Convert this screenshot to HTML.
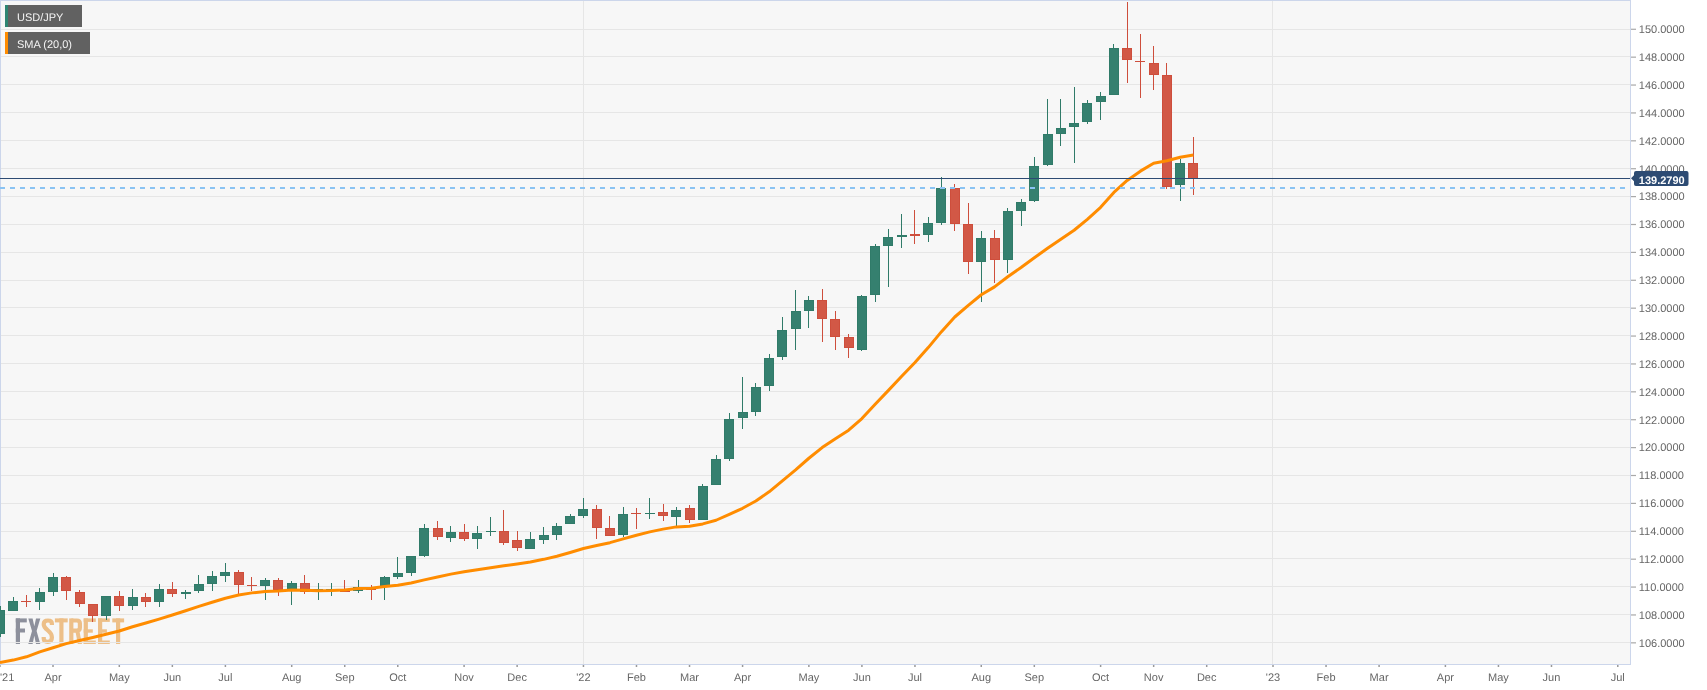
<!DOCTYPE html><html><head><meta charset="utf-8"><style>html,body{margin:0;padding:0;background:#fff;}body{width:1707px;height:690px;overflow:hidden;}svg{display:block;will-change:transform;text-rendering:geometricPrecision;font-family:"Liberation Sans",sans-serif;}</style></head><body><svg width="1707" height="690" viewBox="0 0 1707 690" shape-rendering="crispEdges"><rect x="0" y="0" width="1631" height="665" fill="#f7f7f7"/><g shape-rendering="geometricPrecision"><rect x="15.8" y="618.4" width="4.2" height="25.6" fill="#8d909c"/><rect x="15.8" y="618.4" width="11.0" height="4.0" fill="#8d909c"/><rect x="15.8" y="628.5" width="9.2" height="4.0" fill="#8d909c"/><polygon fill="#8d909c" points="28.3,618.4 32.6,618.4 34.3,626.2 36,618.4 40.3,618.4 36.6,631 40.3,644 36,644 34.3,635.8 32.6,644 28.3,644 32,631"/><path fill="none" stroke="#edbf88" stroke-width="4.2" d="M51.9 625 L51.9 623.8 Q51.9 620.5 47.85 620.5 Q43.7 620.5 43.7 624.2 Q43.7 627.3 47.85 630.4 Q51.9 633.5 51.9 637.6 Q51.9 641.9 47.85 641.9 Q43.7 641.9 43.7 638.6 L43.7 637"/><rect x="54.9" y="618.4" width="12.8" height="4.0" fill="#edbf88"/><rect x="59.3" y="618.4" width="4.2" height="25.6" fill="#edbf88"/><rect x="69.2" y="618.4" width="4.2" height="25.6" fill="#edbf88"/><path fill="none" stroke="#edbf88" stroke-width="4.2" d="M71.3 620.5 L76.8 620.5 Q79.9 620.5 79.9 623.6 L79.9 627.6 Q79.9 630.7 76.8 630.7 L71.3 630.7"/><polygon fill="#edbf88" points="75.6,632 79.6,632 82,644 77.8,644"/><rect x="83.7" y="618.4" width="4.2" height="25.6" fill="#edbf88"/><rect x="83.7" y="618.4" width="12.1" height="3.5" fill="#edbf88"/><rect x="83.7" y="629.3" width="9.1" height="3.4" fill="#edbf88"/><rect x="83.7" y="640.5" width="12.1" height="3.5" fill="#edbf88"/><rect x="98" y="618.4" width="4.2" height="25.6" fill="#edbf88"/><rect x="98" y="618.4" width="11.8" height="3.5" fill="#edbf88"/><rect x="98" y="629.3" width="8.9" height="3.4" fill="#edbf88"/><rect x="98" y="640.5" width="11.8" height="3.5" fill="#edbf88"/><rect x="112.3" y="618.4" width="11.8" height="4.0" fill="#edbf88"/><rect x="116" y="618.4" width="4.2" height="25.6" fill="#edbf88"/></g><rect x="1" y="29" width="1629" height="1" fill="#e6e6e6"/><rect x="1" y="56" width="1629" height="1" fill="#e6e6e6"/><rect x="1" y="84" width="1629" height="1" fill="#e6e6e6"/><rect x="1" y="112" width="1629" height="1" fill="#e6e6e6"/><rect x="1" y="140" width="1629" height="1" fill="#e6e6e6"/><rect x="1" y="168" width="1629" height="1" fill="#e6e6e6"/><rect x="1" y="196" width="1629" height="1" fill="#e6e6e6"/><rect x="1" y="224" width="1629" height="1" fill="#e6e6e6"/><rect x="1" y="252" width="1629" height="1" fill="#e6e6e6"/><rect x="1" y="280" width="1629" height="1" fill="#e6e6e6"/><rect x="1" y="307" width="1629" height="1" fill="#e6e6e6"/><rect x="1" y="335" width="1629" height="1" fill="#e6e6e6"/><rect x="1" y="363" width="1629" height="1" fill="#e6e6e6"/><rect x="1" y="391" width="1629" height="1" fill="#e6e6e6"/><rect x="1" y="419" width="1629" height="1" fill="#e6e6e6"/><rect x="1" y="447" width="1629" height="1" fill="#e6e6e6"/><rect x="1" y="475" width="1629" height="1" fill="#e6e6e6"/><rect x="1" y="503" width="1629" height="1" fill="#e6e6e6"/><rect x="1" y="531" width="1629" height="1" fill="#e6e6e6"/><rect x="1" y="558" width="1629" height="1" fill="#e6e6e6"/><rect x="1" y="586" width="1629" height="1" fill="#e6e6e6"/><rect x="1" y="614" width="1629" height="1" fill="#e6e6e6"/><rect x="1" y="642" width="1629" height="1" fill="#e6e6e6"/><rect x="583" y="1" width="1" height="663" fill="#e6e6e6"/><rect x="1272" y="1" width="1" height="663" fill="#e6e6e6"/><rect x="0" y="0" width="1631" height="1" fill="#ccd6eb"/><rect x="0" y="0" width="1" height="665" fill="#ccd6eb"/><rect x="1630" y="0" width="1" height="665" fill="#ccd6eb"/><rect x="0" y="664" width="1631" height="1" fill="#ccd6eb"/><rect x="0" y="606" width="1" height="31" fill="#307b69"/><rect x="-5" y="610" width="10" height="24" fill="#307b69"/><rect x="-4" y="611" width="8" height="22" fill="#35806f"/><rect x="13" y="597" width="1" height="14" fill="#307b69"/><rect x="8" y="601" width="10" height="10" fill="#307b69"/><rect x="9" y="602" width="8" height="8" fill="#35806f"/><rect x="26" y="595" width="1" height="12" fill="#ce4e3c"/><rect x="21" y="601" width="10" height="1" fill="#ce4e3c"/><rect x="39" y="588" width="1" height="22" fill="#307b69"/><rect x="35" y="592" width="10" height="10" fill="#307b69"/><rect x="36" y="593" width="8" height="8" fill="#35806f"/><rect x="53" y="573" width="1" height="23" fill="#307b69"/><rect x="48" y="577" width="10" height="15" fill="#307b69"/><rect x="49" y="578" width="8" height="13" fill="#35806f"/><rect x="66" y="576" width="1" height="24" fill="#ce4e3c"/><rect x="61" y="577" width="10" height="14" fill="#ce4e3c"/><rect x="62" y="578" width="8" height="12" fill="#d25846"/><rect x="79" y="590" width="1" height="17" fill="#ce4e3c"/><rect x="75" y="592" width="10" height="12" fill="#ce4e3c"/><rect x="76" y="593" width="8" height="10" fill="#d25846"/><rect x="92" y="604" width="1" height="18" fill="#ce4e3c"/><rect x="88" y="604" width="10" height="12" fill="#ce4e3c"/><rect x="89" y="605" width="8" height="10" fill="#d25846"/><rect x="106" y="596" width="1" height="24" fill="#307b69"/><rect x="101" y="596" width="10" height="20" fill="#307b69"/><rect x="102" y="597" width="8" height="18" fill="#35806f"/><rect x="119" y="591" width="1" height="20" fill="#ce4e3c"/><rect x="114" y="596" width="10" height="10" fill="#ce4e3c"/><rect x="115" y="597" width="8" height="8" fill="#d25846"/><rect x="132" y="589" width="1" height="21" fill="#307b69"/><rect x="128" y="597" width="10" height="9" fill="#307b69"/><rect x="129" y="598" width="8" height="7" fill="#35806f"/><rect x="145" y="593" width="1" height="14" fill="#ce4e3c"/><rect x="141" y="597" width="10" height="5" fill="#ce4e3c"/><rect x="142" y="598" width="8" height="3" fill="#d25846"/><rect x="159" y="584" width="1" height="23" fill="#307b69"/><rect x="154" y="589" width="10" height="13" fill="#307b69"/><rect x="155" y="590" width="8" height="11" fill="#35806f"/><rect x="172" y="582" width="1" height="15" fill="#ce4e3c"/><rect x="167" y="589" width="10" height="5" fill="#ce4e3c"/><rect x="168" y="590" width="8" height="3" fill="#d25846"/><rect x="185" y="590" width="1" height="9" fill="#307b69"/><rect x="181" y="592" width="10" height="2" fill="#307b69"/><rect x="198" y="575" width="1" height="18" fill="#307b69"/><rect x="194" y="584" width="10" height="7" fill="#307b69"/><rect x="195" y="585" width="8" height="5" fill="#35806f"/><rect x="212" y="571" width="1" height="20" fill="#307b69"/><rect x="207" y="576" width="10" height="8" fill="#307b69"/><rect x="208" y="577" width="8" height="6" fill="#35806f"/><rect x="225" y="563" width="1" height="19" fill="#307b69"/><rect x="220" y="572" width="10" height="4" fill="#307b69"/><rect x="221" y="573" width="8" height="2" fill="#35806f"/><rect x="238" y="570" width="1" height="24" fill="#ce4e3c"/><rect x="234" y="572" width="10" height="13" fill="#ce4e3c"/><rect x="235" y="573" width="8" height="11" fill="#d25846"/><rect x="251" y="577" width="1" height="14" fill="#ce4e3c"/><rect x="247" y="585" width="10" height="1" fill="#ce4e3c"/><rect x="265" y="578" width="1" height="22" fill="#307b69"/><rect x="260" y="580" width="10" height="6" fill="#307b69"/><rect x="261" y="581" width="8" height="4" fill="#35806f"/><rect x="278" y="578" width="1" height="18" fill="#ce4e3c"/><rect x="273" y="580" width="10" height="10" fill="#ce4e3c"/><rect x="274" y="581" width="8" height="8" fill="#d25846"/><rect x="291" y="581" width="1" height="24" fill="#307b69"/><rect x="287" y="583" width="10" height="6" fill="#307b69"/><rect x="288" y="584" width="8" height="4" fill="#35806f"/><rect x="304" y="575" width="1" height="19" fill="#ce4e3c"/><rect x="300" y="583" width="10" height="9" fill="#ce4e3c"/><rect x="301" y="584" width="8" height="7" fill="#d25846"/><rect x="318" y="583" width="1" height="17" fill="#307b69"/><rect x="313" y="589" width="10" height="2" fill="#307b69"/><rect x="331" y="583" width="1" height="13" fill="#307b69"/><rect x="326" y="589" width="10" height="1" fill="#307b69"/><rect x="344" y="580" width="1" height="12" fill="#ce4e3c"/><rect x="340" y="590" width="10" height="2" fill="#ce4e3c"/><rect x="358" y="580" width="1" height="13" fill="#307b69"/><rect x="353" y="587" width="10" height="4" fill="#307b69"/><rect x="354" y="588" width="8" height="2" fill="#35806f"/><rect x="371" y="585" width="1" height="15" fill="#ce4e3c"/><rect x="366" y="588" width="10" height="2" fill="#ce4e3c"/><rect x="384" y="576" width="1" height="24" fill="#307b69"/><rect x="380" y="577" width="10" height="9" fill="#307b69"/><rect x="381" y="578" width="8" height="7" fill="#35806f"/><rect x="397" y="557" width="1" height="22" fill="#307b69"/><rect x="393" y="573" width="10" height="4" fill="#307b69"/><rect x="394" y="574" width="8" height="2" fill="#35806f"/><rect x="411" y="556" width="1" height="20" fill="#307b69"/><rect x="406" y="556" width="10" height="17" fill="#307b69"/><rect x="407" y="557" width="8" height="15" fill="#35806f"/><rect x="424" y="524" width="1" height="33" fill="#307b69"/><rect x="419" y="528" width="10" height="28" fill="#307b69"/><rect x="420" y="529" width="8" height="26" fill="#35806f"/><rect x="437" y="521" width="1" height="19" fill="#ce4e3c"/><rect x="433" y="528" width="10" height="9" fill="#ce4e3c"/><rect x="434" y="529" width="8" height="7" fill="#d25846"/><rect x="450" y="526" width="1" height="16" fill="#307b69"/><rect x="446" y="532" width="10" height="6" fill="#307b69"/><rect x="447" y="533" width="8" height="4" fill="#35806f"/><rect x="464" y="524" width="1" height="17" fill="#ce4e3c"/><rect x="459" y="532" width="10" height="7" fill="#ce4e3c"/><rect x="460" y="533" width="8" height="5" fill="#d25846"/><rect x="477" y="526" width="1" height="23" fill="#307b69"/><rect x="472" y="533" width="10" height="6" fill="#307b69"/><rect x="473" y="534" width="8" height="4" fill="#35806f"/><rect x="490" y="517" width="1" height="19" fill="#307b69"/><rect x="486" y="531" width="10" height="1" fill="#307b69"/><rect x="503" y="510" width="1" height="35" fill="#ce4e3c"/><rect x="499" y="531" width="10" height="12" fill="#ce4e3c"/><rect x="500" y="532" width="8" height="10" fill="#d25846"/><rect x="517" y="531" width="1" height="20" fill="#ce4e3c"/><rect x="512" y="540" width="10" height="8" fill="#ce4e3c"/><rect x="513" y="541" width="8" height="6" fill="#d25846"/><rect x="530" y="532" width="1" height="17" fill="#307b69"/><rect x="525" y="539" width="10" height="10" fill="#307b69"/><rect x="526" y="540" width="8" height="8" fill="#35806f"/><rect x="543" y="527" width="1" height="17" fill="#307b69"/><rect x="539" y="535" width="10" height="5" fill="#307b69"/><rect x="540" y="536" width="8" height="3" fill="#35806f"/><rect x="556" y="523" width="1" height="17" fill="#307b69"/><rect x="552" y="526" width="10" height="9" fill="#307b69"/><rect x="553" y="527" width="8" height="7" fill="#35806f"/><rect x="570" y="514" width="1" height="10" fill="#307b69"/><rect x="565" y="516" width="10" height="8" fill="#307b69"/><rect x="566" y="517" width="8" height="6" fill="#35806f"/><rect x="583" y="498" width="1" height="20" fill="#307b69"/><rect x="578" y="509" width="10" height="7" fill="#307b69"/><rect x="579" y="510" width="8" height="5" fill="#35806f"/><rect x="596" y="505" width="1" height="34" fill="#ce4e3c"/><rect x="592" y="509" width="10" height="19" fill="#ce4e3c"/><rect x="593" y="510" width="8" height="17" fill="#d25846"/><rect x="609" y="516" width="1" height="20" fill="#ce4e3c"/><rect x="605" y="528" width="10" height="8" fill="#ce4e3c"/><rect x="606" y="529" width="8" height="6" fill="#d25846"/><rect x="623" y="507" width="1" height="30" fill="#307b69"/><rect x="618" y="514" width="10" height="21" fill="#307b69"/><rect x="619" y="515" width="8" height="19" fill="#35806f"/><rect x="636" y="508" width="1" height="21" fill="#ce4e3c"/><rect x="631" y="513" width="10" height="1" fill="#ce4e3c"/><rect x="649" y="498" width="1" height="21" fill="#307b69"/><rect x="645" y="513" width="10" height="1" fill="#307b69"/><rect x="663" y="504" width="1" height="17" fill="#ce4e3c"/><rect x="658" y="512" width="10" height="4" fill="#ce4e3c"/><rect x="659" y="513" width="8" height="2" fill="#d25846"/><rect x="676" y="507" width="1" height="19" fill="#307b69"/><rect x="671" y="510" width="10" height="7" fill="#307b69"/><rect x="672" y="511" width="8" height="5" fill="#35806f"/><rect x="689" y="505" width="1" height="18" fill="#ce4e3c"/><rect x="685" y="508" width="10" height="12" fill="#ce4e3c"/><rect x="686" y="509" width="8" height="10" fill="#d25846"/><rect x="702" y="484" width="1" height="36" fill="#307b69"/><rect x="698" y="486" width="10" height="34" fill="#307b69"/><rect x="699" y="487" width="8" height="32" fill="#35806f"/><rect x="716" y="455" width="1" height="30" fill="#307b69"/><rect x="711" y="459" width="10" height="26" fill="#307b69"/><rect x="712" y="460" width="8" height="24" fill="#35806f"/><rect x="729" y="413" width="1" height="48" fill="#307b69"/><rect x="724" y="419" width="10" height="40" fill="#307b69"/><rect x="725" y="420" width="8" height="38" fill="#35806f"/><rect x="742" y="377" width="1" height="52" fill="#307b69"/><rect x="738" y="412" width="10" height="6" fill="#307b69"/><rect x="739" y="413" width="8" height="4" fill="#35806f"/><rect x="755" y="383" width="1" height="33" fill="#307b69"/><rect x="751" y="387" width="10" height="25" fill="#307b69"/><rect x="752" y="388" width="8" height="23" fill="#35806f"/><rect x="769" y="354" width="1" height="37" fill="#307b69"/><rect x="764" y="358" width="10" height="28" fill="#307b69"/><rect x="765" y="359" width="8" height="26" fill="#35806f"/><rect x="782" y="317" width="1" height="43" fill="#307b69"/><rect x="777" y="330" width="10" height="27" fill="#307b69"/><rect x="778" y="331" width="8" height="25" fill="#35806f"/><rect x="795" y="290" width="1" height="60" fill="#307b69"/><rect x="791" y="311" width="10" height="18" fill="#307b69"/><rect x="792" y="312" width="8" height="16" fill="#35806f"/><rect x="808" y="296" width="1" height="32" fill="#307b69"/><rect x="804" y="300" width="10" height="11" fill="#307b69"/><rect x="805" y="301" width="8" height="9" fill="#35806f"/><rect x="822" y="289" width="1" height="53" fill="#ce4e3c"/><rect x="817" y="300" width="10" height="19" fill="#ce4e3c"/><rect x="818" y="301" width="8" height="17" fill="#d25846"/><rect x="835" y="311" width="1" height="39" fill="#ce4e3c"/><rect x="830" y="319" width="10" height="18" fill="#ce4e3c"/><rect x="831" y="320" width="8" height="16" fill="#d25846"/><rect x="848" y="334" width="1" height="24" fill="#ce4e3c"/><rect x="844" y="337" width="10" height="11" fill="#ce4e3c"/><rect x="845" y="338" width="8" height="9" fill="#d25846"/><rect x="861" y="295" width="1" height="56" fill="#307b69"/><rect x="857" y="296" width="10" height="54" fill="#307b69"/><rect x="858" y="297" width="8" height="52" fill="#35806f"/><rect x="875" y="244" width="1" height="58" fill="#307b69"/><rect x="870" y="246" width="10" height="49" fill="#307b69"/><rect x="871" y="247" width="8" height="47" fill="#35806f"/><rect x="888" y="229" width="1" height="58" fill="#307b69"/><rect x="883" y="237" width="10" height="9" fill="#307b69"/><rect x="884" y="238" width="8" height="7" fill="#35806f"/><rect x="901" y="214" width="1" height="34" fill="#307b69"/><rect x="897" y="235" width="10" height="2" fill="#307b69"/><rect x="914" y="210" width="1" height="34" fill="#ce4e3c"/><rect x="910" y="234" width="10" height="2" fill="#ce4e3c"/><rect x="928" y="217" width="1" height="25" fill="#307b69"/><rect x="923" y="223" width="10" height="12" fill="#307b69"/><rect x="924" y="224" width="8" height="10" fill="#35806f"/><rect x="941" y="177" width="1" height="48" fill="#307b69"/><rect x="936" y="188" width="10" height="35" fill="#307b69"/><rect x="937" y="189" width="8" height="33" fill="#35806f"/><rect x="954" y="184" width="1" height="47" fill="#ce4e3c"/><rect x="950" y="188" width="10" height="36" fill="#ce4e3c"/><rect x="951" y="189" width="8" height="34" fill="#d25846"/><rect x="968" y="203" width="1" height="71" fill="#ce4e3c"/><rect x="963" y="224" width="10" height="38" fill="#ce4e3c"/><rect x="964" y="225" width="8" height="36" fill="#d25846"/><rect x="981" y="231" width="1" height="71" fill="#307b69"/><rect x="976" y="238" width="10" height="24" fill="#307b69"/><rect x="977" y="239" width="8" height="22" fill="#35806f"/><rect x="994" y="230" width="1" height="53" fill="#ce4e3c"/><rect x="990" y="238" width="10" height="22" fill="#ce4e3c"/><rect x="991" y="239" width="8" height="20" fill="#d25846"/><rect x="1007" y="208" width="1" height="65" fill="#307b69"/><rect x="1003" y="211" width="10" height="49" fill="#307b69"/><rect x="1004" y="212" width="8" height="47" fill="#35806f"/><rect x="1021" y="199" width="1" height="27" fill="#307b69"/><rect x="1016" y="202" width="10" height="9" fill="#307b69"/><rect x="1017" y="203" width="8" height="7" fill="#35806f"/><rect x="1034" y="157" width="1" height="45" fill="#307b69"/><rect x="1029" y="166" width="10" height="35" fill="#307b69"/><rect x="1030" y="167" width="8" height="33" fill="#35806f"/><rect x="1047" y="99" width="1" height="67" fill="#307b69"/><rect x="1043" y="134" width="10" height="31" fill="#307b69"/><rect x="1044" y="135" width="8" height="29" fill="#35806f"/><rect x="1060" y="99" width="1" height="47" fill="#307b69"/><rect x="1056" y="128" width="10" height="6" fill="#307b69"/><rect x="1057" y="129" width="8" height="4" fill="#35806f"/><rect x="1074" y="87" width="1" height="76" fill="#307b69"/><rect x="1069" y="123" width="10" height="4" fill="#307b69"/><rect x="1070" y="124" width="8" height="2" fill="#35806f"/><rect x="1087" y="100" width="1" height="24" fill="#307b69"/><rect x="1082" y="103" width="10" height="19" fill="#307b69"/><rect x="1083" y="104" width="8" height="17" fill="#35806f"/><rect x="1100" y="92" width="1" height="28" fill="#307b69"/><rect x="1096" y="96" width="10" height="6" fill="#307b69"/><rect x="1097" y="97" width="8" height="4" fill="#35806f"/><rect x="1113" y="44" width="1" height="51" fill="#307b69"/><rect x="1109" y="48" width="10" height="47" fill="#307b69"/><rect x="1110" y="49" width="8" height="45" fill="#35806f"/><rect x="1127" y="2" width="1" height="81" fill="#ce4e3c"/><rect x="1122" y="48" width="10" height="12" fill="#ce4e3c"/><rect x="1123" y="49" width="8" height="10" fill="#d25846"/><rect x="1140" y="34" width="1" height="64" fill="#ce4e3c"/><rect x="1135" y="61" width="10" height="1" fill="#ce4e3c"/><rect x="1153" y="46" width="1" height="44" fill="#ce4e3c"/><rect x="1149" y="63" width="10" height="12" fill="#ce4e3c"/><rect x="1150" y="64" width="8" height="10" fill="#d25846"/><rect x="1166" y="63" width="1" height="126" fill="#ce4e3c"/><rect x="1162" y="75" width="10" height="112" fill="#ce4e3c"/><rect x="1163" y="76" width="8" height="110" fill="#d25846"/><rect x="1180" y="159" width="1" height="42" fill="#307b69"/><rect x="1175" y="163" width="10" height="22" fill="#307b69"/><rect x="1176" y="164" width="8" height="20" fill="#35806f"/><rect x="1193" y="137" width="1" height="58" fill="#ce4e3c"/><rect x="1188" y="163" width="10" height="16" fill="#ce4e3c"/><rect x="1189" y="164" width="8" height="14" fill="#d25846"/><polyline shape-rendering="geometricPrecision" points="0,662.51 13.22,660.1 26.48,656.8 39.74,651.9 53.0,647.7 66.26,643.6 79.52,640.5 92.78,637.5 106.04,634.2 119.3,631.0 132.57,626.8 145.83,623.0 159.09,619.1 172.35,615.0 185.61,610.7 198.87,606.3 212.13,602.2 225.39,598.2 238.65,595.0 251.91,592.87 265.17,591.42 278.44,590.95 291.7,590.1 304.96,590.16 318.22,590.8 331.48,590.6 344.74,589.91 358.0,588.59 371.26,588.15 384.52,586.46 397.78,585.22 411.04,582.93 424.31,579.86 437.57,576.93 450.83,574.12 464.09,571.84 477.35,569.79 490.61,567.85 503.87,565.78 517.13,563.97 530.39,562.06 543.65,559.34 556.91,556.26 570.18,552.47 583.44,548.56 596.7,545.52 609.96,542.67 623.22,538.91 636.48,535.19 649.74,531.9 663.0,529.12 676.26,526.88 689.52,526.31 702.78,523.91 716.04,520.25 729.31,514.31 742.57,508.28 755.83,501.05 769.09,491.8 782.35,480.86 795.61,469.94 808.87,458.25 822.13,447.61 835.39,438.64 848.65,430.19 861.91,418.58 875.18,404.19 888.44,390.38 901.7,376.32 914.96,362.53 928.22,347.62 941.48,331.65 954.74,317.01 968.0,305.63 981.26,294.78 994.52,286.91 1007.78,276.71 1021.05,267.49 1034.31,257.77 1047.57,248.33 1060.83,239.21 1074.09,230.27 1087.35,219.28 1100.61,207.31 1113.87,192.38 1127.13,180.42 1140.39,171.15 1153.65,163.2 1166.92,160.79 1180.18,157.29 1193.44,155.06" fill="none" stroke="#ff8c00" stroke-width="3" stroke-linejoin="round"/><rect x="0" y="178" width="1630" height="1" fill="#2d4b73"/><rect x="0" y="187" width="5" height="2" fill="#8ac3f3"/><rect x="10" y="187" width="5" height="2" fill="#8ac3f3"/><rect x="20" y="187" width="5" height="2" fill="#8ac3f3"/><rect x="30" y="187" width="5" height="2" fill="#8ac3f3"/><rect x="40" y="187" width="5" height="2" fill="#8ac3f3"/><rect x="50" y="187" width="5" height="2" fill="#8ac3f3"/><rect x="60" y="187" width="5" height="2" fill="#8ac3f3"/><rect x="70" y="187" width="5" height="2" fill="#8ac3f3"/><rect x="80" y="187" width="5" height="2" fill="#8ac3f3"/><rect x="90" y="187" width="5" height="2" fill="#8ac3f3"/><rect x="100" y="187" width="5" height="2" fill="#8ac3f3"/><rect x="110" y="187" width="5" height="2" fill="#8ac3f3"/><rect x="120" y="187" width="5" height="2" fill="#8ac3f3"/><rect x="130" y="187" width="5" height="2" fill="#8ac3f3"/><rect x="140" y="187" width="5" height="2" fill="#8ac3f3"/><rect x="150" y="187" width="5" height="2" fill="#8ac3f3"/><rect x="160" y="187" width="5" height="2" fill="#8ac3f3"/><rect x="170" y="187" width="5" height="2" fill="#8ac3f3"/><rect x="180" y="187" width="5" height="2" fill="#8ac3f3"/><rect x="190" y="187" width="5" height="2" fill="#8ac3f3"/><rect x="200" y="187" width="5" height="2" fill="#8ac3f3"/><rect x="210" y="187" width="5" height="2" fill="#8ac3f3"/><rect x="220" y="187" width="5" height="2" fill="#8ac3f3"/><rect x="230" y="187" width="5" height="2" fill="#8ac3f3"/><rect x="240" y="187" width="5" height="2" fill="#8ac3f3"/><rect x="250" y="187" width="5" height="2" fill="#8ac3f3"/><rect x="260" y="187" width="5" height="2" fill="#8ac3f3"/><rect x="270" y="187" width="5" height="2" fill="#8ac3f3"/><rect x="280" y="187" width="5" height="2" fill="#8ac3f3"/><rect x="290" y="187" width="5" height="2" fill="#8ac3f3"/><rect x="300" y="187" width="5" height="2" fill="#8ac3f3"/><rect x="310" y="187" width="5" height="2" fill="#8ac3f3"/><rect x="320" y="187" width="5" height="2" fill="#8ac3f3"/><rect x="330" y="187" width="5" height="2" fill="#8ac3f3"/><rect x="340" y="187" width="5" height="2" fill="#8ac3f3"/><rect x="350" y="187" width="5" height="2" fill="#8ac3f3"/><rect x="360" y="187" width="5" height="2" fill="#8ac3f3"/><rect x="370" y="187" width="5" height="2" fill="#8ac3f3"/><rect x="380" y="187" width="5" height="2" fill="#8ac3f3"/><rect x="390" y="187" width="5" height="2" fill="#8ac3f3"/><rect x="400" y="187" width="5" height="2" fill="#8ac3f3"/><rect x="410" y="187" width="5" height="2" fill="#8ac3f3"/><rect x="420" y="187" width="5" height="2" fill="#8ac3f3"/><rect x="430" y="187" width="5" height="2" fill="#8ac3f3"/><rect x="440" y="187" width="5" height="2" fill="#8ac3f3"/><rect x="450" y="187" width="5" height="2" fill="#8ac3f3"/><rect x="460" y="187" width="5" height="2" fill="#8ac3f3"/><rect x="470" y="187" width="5" height="2" fill="#8ac3f3"/><rect x="480" y="187" width="5" height="2" fill="#8ac3f3"/><rect x="490" y="187" width="5" height="2" fill="#8ac3f3"/><rect x="500" y="187" width="5" height="2" fill="#8ac3f3"/><rect x="510" y="187" width="5" height="2" fill="#8ac3f3"/><rect x="520" y="187" width="5" height="2" fill="#8ac3f3"/><rect x="530" y="187" width="5" height="2" fill="#8ac3f3"/><rect x="540" y="187" width="5" height="2" fill="#8ac3f3"/><rect x="550" y="187" width="5" height="2" fill="#8ac3f3"/><rect x="560" y="187" width="5" height="2" fill="#8ac3f3"/><rect x="570" y="187" width="5" height="2" fill="#8ac3f3"/><rect x="580" y="187" width="5" height="2" fill="#8ac3f3"/><rect x="590" y="187" width="5" height="2" fill="#8ac3f3"/><rect x="600" y="187" width="5" height="2" fill="#8ac3f3"/><rect x="610" y="187" width="5" height="2" fill="#8ac3f3"/><rect x="620" y="187" width="5" height="2" fill="#8ac3f3"/><rect x="630" y="187" width="5" height="2" fill="#8ac3f3"/><rect x="640" y="187" width="5" height="2" fill="#8ac3f3"/><rect x="650" y="187" width="5" height="2" fill="#8ac3f3"/><rect x="660" y="187" width="5" height="2" fill="#8ac3f3"/><rect x="670" y="187" width="5" height="2" fill="#8ac3f3"/><rect x="680" y="187" width="5" height="2" fill="#8ac3f3"/><rect x="690" y="187" width="5" height="2" fill="#8ac3f3"/><rect x="700" y="187" width="5" height="2" fill="#8ac3f3"/><rect x="710" y="187" width="5" height="2" fill="#8ac3f3"/><rect x="720" y="187" width="5" height="2" fill="#8ac3f3"/><rect x="730" y="187" width="5" height="2" fill="#8ac3f3"/><rect x="740" y="187" width="5" height="2" fill="#8ac3f3"/><rect x="750" y="187" width="5" height="2" fill="#8ac3f3"/><rect x="760" y="187" width="5" height="2" fill="#8ac3f3"/><rect x="770" y="187" width="5" height="2" fill="#8ac3f3"/><rect x="780" y="187" width="5" height="2" fill="#8ac3f3"/><rect x="790" y="187" width="5" height="2" fill="#8ac3f3"/><rect x="800" y="187" width="5" height="2" fill="#8ac3f3"/><rect x="810" y="187" width="5" height="2" fill="#8ac3f3"/><rect x="820" y="187" width="5" height="2" fill="#8ac3f3"/><rect x="830" y="187" width="5" height="2" fill="#8ac3f3"/><rect x="840" y="187" width="5" height="2" fill="#8ac3f3"/><rect x="850" y="187" width="5" height="2" fill="#8ac3f3"/><rect x="860" y="187" width="5" height="2" fill="#8ac3f3"/><rect x="870" y="187" width="5" height="2" fill="#8ac3f3"/><rect x="880" y="187" width="5" height="2" fill="#8ac3f3"/><rect x="890" y="187" width="5" height="2" fill="#8ac3f3"/><rect x="900" y="187" width="5" height="2" fill="#8ac3f3"/><rect x="910" y="187" width="5" height="2" fill="#8ac3f3"/><rect x="920" y="187" width="5" height="2" fill="#8ac3f3"/><rect x="930" y="187" width="5" height="2" fill="#8ac3f3"/><rect x="940" y="187" width="5" height="2" fill="#8ac3f3"/><rect x="950" y="187" width="5" height="2" fill="#8ac3f3"/><rect x="960" y="187" width="5" height="2" fill="#8ac3f3"/><rect x="970" y="187" width="5" height="2" fill="#8ac3f3"/><rect x="980" y="187" width="5" height="2" fill="#8ac3f3"/><rect x="990" y="187" width="5" height="2" fill="#8ac3f3"/><rect x="1000" y="187" width="5" height="2" fill="#8ac3f3"/><rect x="1010" y="187" width="5" height="2" fill="#8ac3f3"/><rect x="1020" y="187" width="5" height="2" fill="#8ac3f3"/><rect x="1030" y="187" width="5" height="2" fill="#8ac3f3"/><rect x="1040" y="187" width="5" height="2" fill="#8ac3f3"/><rect x="1050" y="187" width="5" height="2" fill="#8ac3f3"/><rect x="1060" y="187" width="5" height="2" fill="#8ac3f3"/><rect x="1070" y="187" width="5" height="2" fill="#8ac3f3"/><rect x="1080" y="187" width="5" height="2" fill="#8ac3f3"/><rect x="1090" y="187" width="5" height="2" fill="#8ac3f3"/><rect x="1100" y="187" width="5" height="2" fill="#8ac3f3"/><rect x="1110" y="187" width="5" height="2" fill="#8ac3f3"/><rect x="1120" y="187" width="5" height="2" fill="#8ac3f3"/><rect x="1130" y="187" width="5" height="2" fill="#8ac3f3"/><rect x="1140" y="187" width="5" height="2" fill="#8ac3f3"/><rect x="1150" y="187" width="5" height="2" fill="#8ac3f3"/><rect x="1160" y="187" width="5" height="2" fill="#8ac3f3"/><rect x="1170" y="187" width="5" height="2" fill="#8ac3f3"/><rect x="1180" y="187" width="5" height="2" fill="#8ac3f3"/><rect x="1190" y="187" width="5" height="2" fill="#8ac3f3"/><rect x="1200" y="187" width="5" height="2" fill="#8ac3f3"/><rect x="1210" y="187" width="5" height="2" fill="#8ac3f3"/><rect x="1220" y="187" width="5" height="2" fill="#8ac3f3"/><rect x="1230" y="187" width="5" height="2" fill="#8ac3f3"/><rect x="1240" y="187" width="5" height="2" fill="#8ac3f3"/><rect x="1250" y="187" width="5" height="2" fill="#8ac3f3"/><rect x="1260" y="187" width="5" height="2" fill="#8ac3f3"/><rect x="1270" y="187" width="5" height="2" fill="#8ac3f3"/><rect x="1280" y="187" width="5" height="2" fill="#8ac3f3"/><rect x="1290" y="187" width="5" height="2" fill="#8ac3f3"/><rect x="1300" y="187" width="5" height="2" fill="#8ac3f3"/><rect x="1310" y="187" width="5" height="2" fill="#8ac3f3"/><rect x="1320" y="187" width="5" height="2" fill="#8ac3f3"/><rect x="1330" y="187" width="5" height="2" fill="#8ac3f3"/><rect x="1340" y="187" width="5" height="2" fill="#8ac3f3"/><rect x="1350" y="187" width="5" height="2" fill="#8ac3f3"/><rect x="1360" y="187" width="5" height="2" fill="#8ac3f3"/><rect x="1370" y="187" width="5" height="2" fill="#8ac3f3"/><rect x="1380" y="187" width="5" height="2" fill="#8ac3f3"/><rect x="1390" y="187" width="5" height="2" fill="#8ac3f3"/><rect x="1400" y="187" width="5" height="2" fill="#8ac3f3"/><rect x="1410" y="187" width="5" height="2" fill="#8ac3f3"/><rect x="1420" y="187" width="5" height="2" fill="#8ac3f3"/><rect x="1430" y="187" width="5" height="2" fill="#8ac3f3"/><rect x="1440" y="187" width="5" height="2" fill="#8ac3f3"/><rect x="1450" y="187" width="5" height="2" fill="#8ac3f3"/><rect x="1460" y="187" width="5" height="2" fill="#8ac3f3"/><rect x="1470" y="187" width="5" height="2" fill="#8ac3f3"/><rect x="1480" y="187" width="5" height="2" fill="#8ac3f3"/><rect x="1490" y="187" width="5" height="2" fill="#8ac3f3"/><rect x="1500" y="187" width="5" height="2" fill="#8ac3f3"/><rect x="1510" y="187" width="5" height="2" fill="#8ac3f3"/><rect x="1520" y="187" width="5" height="2" fill="#8ac3f3"/><rect x="1530" y="187" width="5" height="2" fill="#8ac3f3"/><rect x="1540" y="187" width="5" height="2" fill="#8ac3f3"/><rect x="1550" y="187" width="5" height="2" fill="#8ac3f3"/><rect x="1560" y="187" width="5" height="2" fill="#8ac3f3"/><rect x="1570" y="187" width="5" height="2" fill="#8ac3f3"/><rect x="1580" y="187" width="5" height="2" fill="#8ac3f3"/><rect x="1590" y="187" width="5" height="2" fill="#8ac3f3"/><rect x="1600" y="187" width="5" height="2" fill="#8ac3f3"/><rect x="1610" y="187" width="5" height="2" fill="#8ac3f3"/><rect x="1620" y="187" width="5" height="2" fill="#8ac3f3"/><rect x="5" y="5" width="77" height="22" fill="#616161"/><rect x="5" y="5" width="3" height="22" fill="#2e8572"/><text x="17" y="21" font-size="11" fill="#f4f4f4" shape-rendering="geometricPrecision">USD/JPY</text><rect x="5" y="32" width="85" height="22" fill="#616161"/><rect x="5" y="32" width="3" height="22" fill="#ff8c00"/><text x="17" y="48" font-size="11" fill="#f4f4f4">SMA (20,0)</text><rect x="1631" y="28.67" width="5" height="1.2" fill="#a9a9a9" shape-rendering="geometricPrecision"/><text x="1638.8" y="33.07" font-size="11" fill="#666666">150.0000</text><rect x="1631" y="56.56" width="5" height="1.2" fill="#a9a9a9" shape-rendering="geometricPrecision"/><text x="1638.8" y="60.96" font-size="11" fill="#666666">148.0000</text><rect x="1631" y="84.45" width="5" height="1.2" fill="#a9a9a9" shape-rendering="geometricPrecision"/><text x="1638.8" y="88.85" font-size="11" fill="#666666">146.0000</text><rect x="1631" y="112.34" width="5" height="1.2" fill="#a9a9a9" shape-rendering="geometricPrecision"/><text x="1638.8" y="116.74" font-size="11" fill="#666666">144.0000</text><rect x="1631" y="140.23" width="5" height="1.2" fill="#a9a9a9" shape-rendering="geometricPrecision"/><text x="1638.8" y="144.63" font-size="11" fill="#666666">142.0000</text><rect x="1631" y="168.12" width="5" height="1.2" fill="#a9a9a9" shape-rendering="geometricPrecision"/><text x="1638.8" y="172.52" font-size="11" fill="#666666">140.0000</text><rect x="1631" y="196.01" width="5" height="1.2" fill="#a9a9a9" shape-rendering="geometricPrecision"/><text x="1638.8" y="200.41" font-size="11" fill="#666666">138.0000</text><rect x="1631" y="223.9" width="5" height="1.2" fill="#a9a9a9" shape-rendering="geometricPrecision"/><text x="1638.8" y="228.3" font-size="11" fill="#666666">136.0000</text><rect x="1631" y="251.79" width="5" height="1.2" fill="#a9a9a9" shape-rendering="geometricPrecision"/><text x="1638.8" y="256.19" font-size="11" fill="#666666">134.0000</text><rect x="1631" y="279.68" width="5" height="1.2" fill="#a9a9a9" shape-rendering="geometricPrecision"/><text x="1638.8" y="284.08" font-size="11" fill="#666666">132.0000</text><rect x="1631" y="307.57" width="5" height="1.2" fill="#a9a9a9" shape-rendering="geometricPrecision"/><text x="1638.8" y="311.97" font-size="11" fill="#666666">130.0000</text><rect x="1631" y="335.46" width="5" height="1.2" fill="#a9a9a9" shape-rendering="geometricPrecision"/><text x="1638.8" y="339.86" font-size="11" fill="#666666">128.0000</text><rect x="1631" y="363.35" width="5" height="1.2" fill="#a9a9a9" shape-rendering="geometricPrecision"/><text x="1638.8" y="367.75" font-size="11" fill="#666666">126.0000</text><rect x="1631" y="391.24" width="5" height="1.2" fill="#a9a9a9" shape-rendering="geometricPrecision"/><text x="1638.8" y="395.64" font-size="11" fill="#666666">124.0000</text><rect x="1631" y="419.13" width="5" height="1.2" fill="#a9a9a9" shape-rendering="geometricPrecision"/><text x="1638.8" y="423.53" font-size="11" fill="#666666">122.0000</text><rect x="1631" y="447.02" width="5" height="1.2" fill="#a9a9a9" shape-rendering="geometricPrecision"/><text x="1638.8" y="451.42" font-size="11" fill="#666666">120.0000</text><rect x="1631" y="474.91" width="5" height="1.2" fill="#a9a9a9" shape-rendering="geometricPrecision"/><text x="1638.8" y="479.31" font-size="11" fill="#666666">118.0000</text><rect x="1631" y="502.8" width="5" height="1.2" fill="#a9a9a9" shape-rendering="geometricPrecision"/><text x="1638.8" y="507.2" font-size="11" fill="#666666">116.0000</text><rect x="1631" y="530.69" width="5" height="1.2" fill="#a9a9a9" shape-rendering="geometricPrecision"/><text x="1638.8" y="535.09" font-size="11" fill="#666666">114.0000</text><rect x="1631" y="558.58" width="5" height="1.2" fill="#a9a9a9" shape-rendering="geometricPrecision"/><text x="1638.8" y="562.98" font-size="11" fill="#666666">112.0000</text><rect x="1631" y="586.47" width="5" height="1.2" fill="#a9a9a9" shape-rendering="geometricPrecision"/><text x="1638.8" y="590.87" font-size="11" fill="#666666">110.0000</text><rect x="1631" y="614.36" width="5" height="1.2" fill="#a9a9a9" shape-rendering="geometricPrecision"/><text x="1638.8" y="618.76" font-size="11" fill="#666666">108.0000</text><rect x="1631" y="642.25" width="5" height="1.2" fill="#a9a9a9" shape-rendering="geometricPrecision"/><text x="1638.8" y="646.65" font-size="11" fill="#666666">106.0000</text><rect x="-0.79" y="665" width="1.5" height="2" fill="#999999" shape-rendering="geometricPrecision"/><text x="0" y="681" font-size="11" fill="#666666">'21</text><rect x="52.25" y="665" width="1.5" height="2" fill="#999999" shape-rendering="geometricPrecision"/><text x="53.0" y="681" font-size="11" fill="#666666" text-anchor="middle">Apr</text><rect x="118.55" y="665" width="1.5" height="2" fill="#999999" shape-rendering="geometricPrecision"/><text x="119.3" y="681" font-size="11" fill="#666666" text-anchor="middle">May</text><rect x="171.6" y="665" width="1.5" height="2" fill="#999999" shape-rendering="geometricPrecision"/><text x="172.35" y="681" font-size="11" fill="#666666" text-anchor="middle">Jun</text><rect x="224.64" y="665" width="1.5" height="2" fill="#999999" shape-rendering="geometricPrecision"/><text x="225.39" y="681" font-size="11" fill="#666666" text-anchor="middle">Jul</text><rect x="290.95" y="665" width="1.5" height="2" fill="#999999" shape-rendering="geometricPrecision"/><text x="291.7" y="681" font-size="11" fill="#666666" text-anchor="middle">Aug</text><rect x="343.99" y="665" width="1.5" height="2" fill="#999999" shape-rendering="geometricPrecision"/><text x="344.74" y="681" font-size="11" fill="#666666" text-anchor="middle">Sep</text><rect x="397.03" y="665" width="1.5" height="2" fill="#999999" shape-rendering="geometricPrecision"/><text x="397.78" y="681" font-size="11" fill="#666666" text-anchor="middle">Oct</text><rect x="463.34" y="665" width="1.5" height="2" fill="#999999" shape-rendering="geometricPrecision"/><text x="464.09" y="681" font-size="11" fill="#666666" text-anchor="middle">Nov</text><rect x="516.38" y="665" width="1.5" height="2" fill="#999999" shape-rendering="geometricPrecision"/><text x="517.13" y="681" font-size="11" fill="#666666" text-anchor="middle">Dec</text><rect x="582.69" y="665" width="1.5" height="2" fill="#999999" shape-rendering="geometricPrecision"/><text x="583.44" y="681" font-size="11" fill="#666666" text-anchor="middle">'22</text><rect x="635.73" y="665" width="1.5" height="2" fill="#999999" shape-rendering="geometricPrecision"/><text x="636.48" y="681" font-size="11" fill="#666666" text-anchor="middle">Feb</text><rect x="688.77" y="665" width="1.5" height="2" fill="#999999" shape-rendering="geometricPrecision"/><text x="689.52" y="681" font-size="11" fill="#666666" text-anchor="middle">Mar</text><rect x="741.82" y="665" width="1.5" height="2" fill="#999999" shape-rendering="geometricPrecision"/><text x="742.57" y="681" font-size="11" fill="#666666" text-anchor="middle">Apr</text><rect x="808.12" y="665" width="1.5" height="2" fill="#999999" shape-rendering="geometricPrecision"/><text x="808.87" y="681" font-size="11" fill="#666666" text-anchor="middle">May</text><rect x="861.16" y="665" width="1.5" height="2" fill="#999999" shape-rendering="geometricPrecision"/><text x="861.91" y="681" font-size="11" fill="#666666" text-anchor="middle">Jun</text><rect x="914.21" y="665" width="1.5" height="2" fill="#999999" shape-rendering="geometricPrecision"/><text x="914.96" y="681" font-size="11" fill="#666666" text-anchor="middle">Jul</text><rect x="980.51" y="665" width="1.5" height="2" fill="#999999" shape-rendering="geometricPrecision"/><text x="981.26" y="681" font-size="11" fill="#666666" text-anchor="middle">Aug</text><rect x="1033.56" y="665" width="1.5" height="2" fill="#999999" shape-rendering="geometricPrecision"/><text x="1034.31" y="681" font-size="11" fill="#666666" text-anchor="middle">Sep</text><rect x="1099.86" y="665" width="1.5" height="2" fill="#999999" shape-rendering="geometricPrecision"/><text x="1100.61" y="681" font-size="11" fill="#666666" text-anchor="middle">Oct</text><rect x="1152.9" y="665" width="1.5" height="2" fill="#999999" shape-rendering="geometricPrecision"/><text x="1153.65" y="681" font-size="11" fill="#666666" text-anchor="middle">Nov</text><rect x="1205.95" y="665" width="1.5" height="2" fill="#999999" shape-rendering="geometricPrecision"/><text x="1206.7" y="681" font-size="11" fill="#666666" text-anchor="middle">Dec</text><rect x="1272.25" y="665" width="1.5" height="2" fill="#999999" shape-rendering="geometricPrecision"/><text x="1273.0" y="681" font-size="11" fill="#666666" text-anchor="middle">'23</text><rect x="1325.3" y="665" width="1.5" height="2" fill="#999999" shape-rendering="geometricPrecision"/><text x="1326.05" y="681" font-size="11" fill="#666666" text-anchor="middle">Feb</text><rect x="1378.34" y="665" width="1.5" height="2" fill="#999999" shape-rendering="geometricPrecision"/><text x="1379.09" y="681" font-size="11" fill="#666666" text-anchor="middle">Mar</text><rect x="1444.64" y="665" width="1.5" height="2" fill="#999999" shape-rendering="geometricPrecision"/><text x="1445.39" y="681" font-size="11" fill="#666666" text-anchor="middle">Apr</text><rect x="1497.69" y="665" width="1.5" height="2" fill="#999999" shape-rendering="geometricPrecision"/><text x="1498.44" y="681" font-size="11" fill="#666666" text-anchor="middle">May</text><rect x="1550.73" y="665" width="1.5" height="2" fill="#999999" shape-rendering="geometricPrecision"/><text x="1551.48" y="681" font-size="11" fill="#666666" text-anchor="middle">Jun</text><rect x="1617.04" y="665" width="1.5" height="2" fill="#999999" shape-rendering="geometricPrecision"/><text x="1617.79" y="681" font-size="11" fill="#666666" text-anchor="middle">Jul</text><path shape-rendering="geometricPrecision" d="M1631 178.3 L1634 175.3 L1634 173 Q1634 171 1636 171 L1686.5 171 Q1688.5 171 1688.5 173 L1688.5 184 Q1688.5 186 1686.5 186 L1636 186 Q1634 186 1634 184 L1634 181.3 Z" fill="#2d4b73"/><text x="1638.8" y="184" font-size="11" font-weight="bold" fill="#ffffff">139.2790</text></svg></body></html>
